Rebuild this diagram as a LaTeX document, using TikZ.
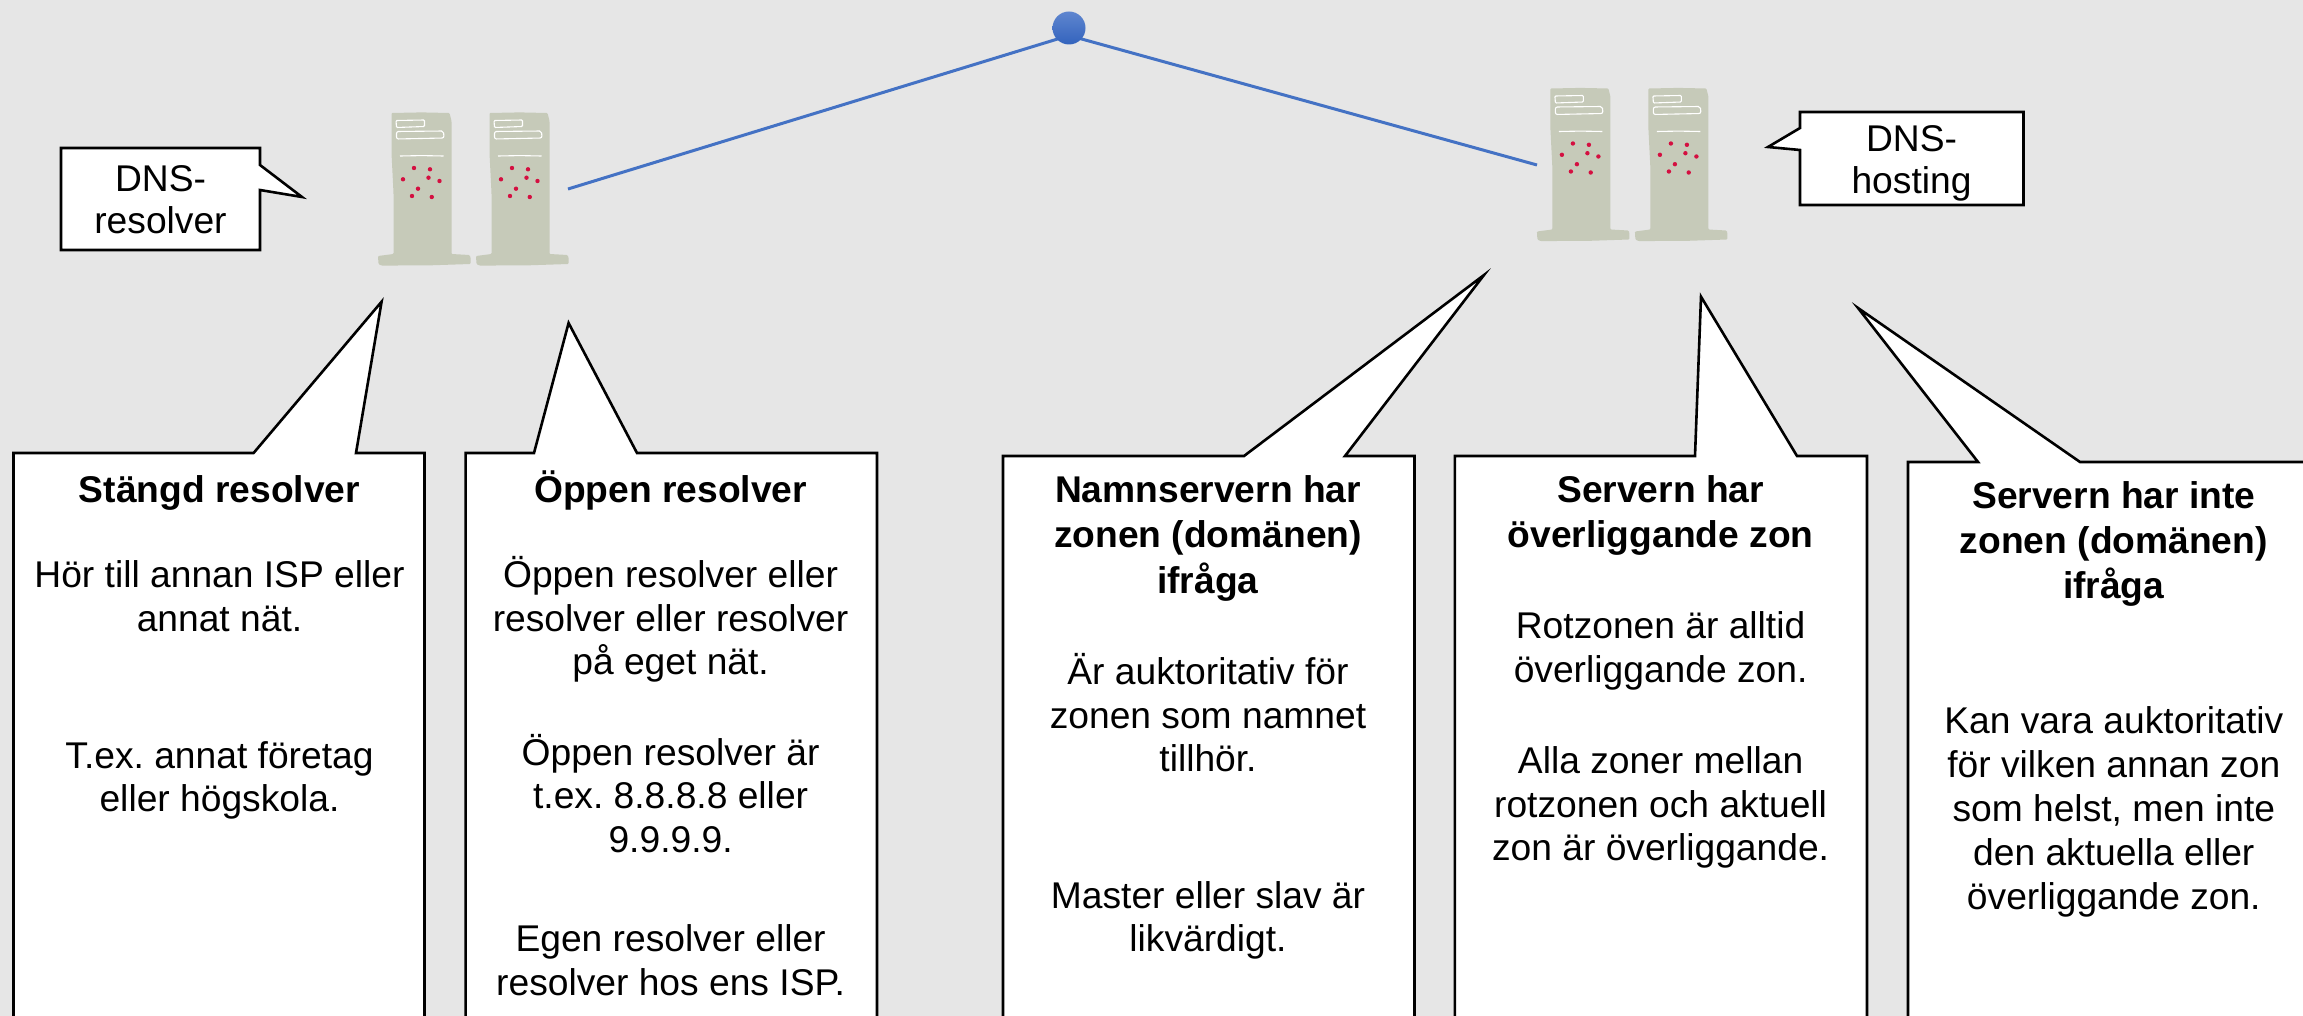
\documentclass[tikz,border=0pt]{standalone}
\usepackage{fontspec}
\setmainfont{Liberation Sans}
\frenchspacing
\newcommand{\firstline}{\rule{0pt}{36pt}}
\definecolor{bggrey}{HTML}{E6E6E6}
\definecolor{srv}{HTML}{C6CAB9}
\definecolor{blueline}{HTML}{4472C4}
\definecolor{hubtop}{HTML}{5F86CF}
\definecolor{hubbottom}{HTML}{3363BD}
\definecolor{dotred}{HTML}{D40F40}
\tikzset{
  bubble/.style={draw=black,fill=white,line width=2.6pt,line join=miter,miter limit=10},
  bodytext/.style={inner sep=0pt,anchor=north,align=center,font=\fontsize{37.2}{43.5}\selectfont},
  widetext/.style={bodytext,font=\fontsize{37.2}{44}\selectfont},
  labeltext/.style={bodytext,font=\fontsize{37.2}{42}\selectfont},
  link/.style={draw=blueline,line width=3pt},
  serverpic/.pic={
    \fill[srv,rounded corners=1pt] (0,0) -- (30,-0.6) -- (58,0) -- (60,8) -- (60,141) -- (78,142) -- (79,144) -- (79,151) -- (40,152.3) -- (-10,152.6) -- (-13,151) -- (-13.5,143) -- (2,141) -- (2,80) -- (0,40) -- cycle;
    \draw[white,line width=1.1pt,rounded corners=1pt] (4.5,7.5) -- (33,7) -- (33,13.5) -- (5,14.5) -- cycle;
    \draw[white,line width=1.1pt,rounded corners=2pt] (5,18.5) -- (52,18) -- (52.5,25) -- (5,26) -- cycle;
    \draw[white,line width=1.1pt] (8.5,43) -- (30,42.6) -- (52,43);
    \foreach \p/\q in {22.5/55,38.5/56.3,11.5/66.3,37/64.7,48/68,26.5/75.7,20.5/83,40.3/84}
      \fill[dotred] (\p,\q) circle (2.2pt);
  }
}
\begin{document}
\begin{tikzpicture}[x=1pt,y=-1pt]
\useasboundingbox (0,0) rectangle (2303,1016);
\clip (0,0) rectangle (2303,1016);
\fill[bggrey] (0,0) rectangle (2303,1016);

% servers
\pic at (391.5,113) {serverpic};
\pic at (489.5,113) {serverpic};
\pic at (1550.4,88.5) {serverpic};
\pic at (1648.4,88.5) {serverpic};

% links
\coordinate (resolverport) at (568,189);
\coordinate (hostingport) at (1537,165);
\coordinate (hubjoin) at (1069,35.5);
\draw[link] (resolverport) -- (hubjoin);
\draw[link] (hostingport) -- (hubjoin);
\node[circle,minimum size=33pt,inner sep=0pt,top color=hubtop,bottom color=hubbottom,draw=none] (hub) at (1069,28) {};

% small callouts
\draw[bubble] (61,148) -- (260,148) -- (260,165) -- (302,197) -- (260,190) -- (260,250) -- (61,250) -- cycle;
\node[labeltext] (lblresolver) at (160.5,155) {\firstline DNS-\\resolver};
\draw[bubble] (1800,112) -- (2023.5,112) -- (2023.5,205) -- (1800,205) -- (1800,150) -- (1768,147) -- (1800,128) -- cycle;
\node[labeltext] (lblhosting) at (1911.5,115) {\firstline DNS-\\hosting};

% large callouts
\draw[bubble] (13.5,1040) -- (13.5,453) -- (253.6,453) -- (381.6,301.7) -- (356,453) -- (424.5,453) -- (424.5,1040);
\node[bodytext] (tone) at (219.5,466) {\firstline\textbf{Stängd resolver}\\[42pt]Hör till annan ISP eller\\annat nät.\\[93.5pt]T.ex. annat företag\\eller högskola.};

\draw[bubble] (465.6,1040) -- (465.6,453) -- (534,453) -- (568.6,323) -- (637,453) -- (877,453) -- (877,1040);
\node[bodytext] (ttwo) at (670.6,466) {\firstline\textbf{Öppen resolver}\\[42pt]Öppen resolver eller\\resolver eller resolver\\på eget nät.\\[47pt]Öppen resolver är\\t.ex. 8.8.8.8 eller\\9.9.9.9.\\[56pt]Egen resolver eller\\resolver hos ens ISP.};

\draw[bubble] (1003,1040) -- (1003,456) -- (1244,456) -- (1484,275) -- (1345,456) -- (1414.5,456) -- (1414.5,1040);
\node[bodytext] (tthree) at (1208,466) {\firstline\textbf{Namnservern har}\\[2pt]\textbf{zonen (domänen)}\\[2pt]\textbf{ifråga}\\[47.8pt]Är auktoritativ för\\zonen som namnet\\tillhör.\\[93pt]Master eller slav är\\likvärdigt.};

\draw[bubble] (1454.8,1040) -- (1454.8,456) -- (1695,456) -- (1701,296.7) -- (1797,456) -- (1867,456) -- (1867,1040);
\node[bodytext] (tfour) at (1660.6,466) {\firstline\textbf{Servern har}\\[2pt]\textbf{överliggande zon}\\[47.6pt]Rotzonen är alltid\\överliggande zon.\\[47.9pt]Alla zoner mellan\\rotzonen och aktuell\\zon är överliggande.};

\draw[bubble] (1908,1040) -- (1908,462) -- (1978,462) -- (1858,308) -- (2080,462) -- (2320,462) -- (2320,1040);
\node[widetext] (tfive) at (2113.8,472) {\firstline\textbf{Servern har inte}\\[1.5pt]\textbf{zonen (domänen)}\\[1pt]\textbf{ifråga}\\[91pt]Kan vara auktoritativ\\för vilken annan zon\\som helst, men inte\\den aktuella eller\\överliggande zon.};
\end{tikzpicture}
\end{document}
